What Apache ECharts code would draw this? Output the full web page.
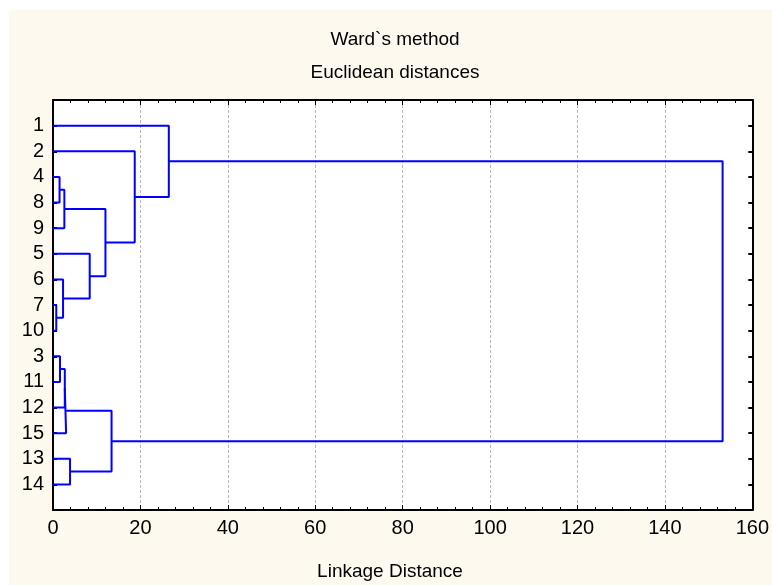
<!DOCTYPE html>
<html>
<head>
<meta charset="utf-8">
<script src="https://cdn.jsdelivr.net/npm/echarts@6/dist/echarts.min.js"></script>
<style>
  html, body { margin: 0; padding: 0; background: #ffffff; }
  #chart { width: 772px; height: 585px; }
</style>
</head>
<body>
<div id="chart"></div>
<script>
// Leaf order along the vertical axis (top to bottom)
const leaves = ['1', '2', '4', '8', '9', '5', '6', '7', '10', '3', '11', '12', '15', '13', '14'];

// Agglomeration steps: cluster cN is created by step N
const mergeLeft  = ['7', '4', '3', 'c0', 'c1', 'c2', 'c5', '13', '5',  'c4', 'c6', '2',  '1',   'c12'];
const mergeRight = ['10', '8', '11', '6', '9', '12', '15', '14', 'c3', 'c8', 'c7', 'c9', 'c11', 'c10'];
const mergeDist  = [0.75, 1.5, 1.6, 2.3, 2.6, 2.7, 3.0, 3.9, 8.4, 12.0, 13.4, 18.7, 26.5, 153.2];

// Distance axis ticks
const distTicks = [0, 20, 40, 60, 80, 100, 120, 140, 160];

// Position (row) and height of every node
const nodePos = {};
const nodeHeight = {};
leaves.forEach((name, i) => { nodePos[name] = i + 1; nodeHeight[name] = 0; });

const linkSeries = [];
mergeDist.forEach((d, i) => {
  const a = mergeLeft[i], b = mergeRight[i];
  const ya = nodePos[a], yb = nodePos[b];
  const id = 'c' + i;
  nodePos[id] = (ya + yb) / 2;
  nodeHeight[id] = d;
  linkSeries.push({
    type: 'line',
    name: id,
    xAxisIndex: 0,
    yAxisIndex: 0,
    data: [[nodeHeight[a], ya], [d, ya], [d, yb], [nodeHeight[b], yb]],
    symbol: 'none',
    silent: true,
    animation: false,
    lineStyle: { color: '#0000ff', width: 2 }
  });
});

const FONT = '"Liberation Sans", Arial, sans-serif';
const chart = echarts.init(document.getElementById('chart'));

const axisCommon = {
  type: 'value',
  min: 0,
  max: 160,
  interval: 20,
  axisLine: { show: true, onZero: false, lineStyle: { color: '#000', width: 2 } },
  axisTick: { show: true, inside: true, length: 5, lineStyle: { color: '#000', width: 1 } },
  minorTick: { show: true, splitNumber: 5, length: 3, lineStyle: { color: '#000', width: 1 } },
};

chart.setOption({
  animation: false,
  backgroundColor: 'transparent',
  graphic: [
    { type: 'rect', z: -10, shape: { x: 9, y: 10, width: 763, height: 575 }, style: { fill: '#fdf9ee' } },
    { type: 'text', x: 395, y: 40, style: { text: 'Ward`s method', font: '19px ' + FONT, fill: '#000', textAlign: 'center', textVerticalAlign: 'middle' } },
    { type: 'text', x: 395, y: 73, style: { text: 'Euclidean distances', font: '19px ' + FONT, fill: '#000', textAlign: 'center', textVerticalAlign: 'middle' } },
    { type: 'text', x: 390, y: 572, style: { text: 'Linkage Distance', font: '19px ' + FONT, fill: '#000', textAlign: 'center', textVerticalAlign: 'middle' } }
  ],
  grid: {
    left: 53, right: 18, top: 100, bottom: 75,
    show: true, backgroundColor: '#ffffff', borderWidth: 0
  },
  xAxis: [
    Object.assign({}, axisCommon, {
      position: 'bottom',
      axisLabel: {
        show: true, color: '#000', fontSize: 20, fontFamily: FONT, margin: 8,
        formatter: v => (distTicks.indexOf(v) >= 0 ? String(v) : '')
      },
      splitLine: { show: true, lineStyle: { color: '#b8b8b8', width: 1, type: [3, 2] } }
    }),
    Object.assign({}, axisCommon, {
      position: 'top',
      axisLabel: { show: false },
      splitLine: { show: false }
    })
  ],
  yAxis: [
    {
      type: 'value', min: 0, max: 16, interval: 1, inverse: true, position: 'left',
      axisLine: { show: true, onZero: false, lineStyle: { color: '#000', width: 2 } },
      axisTick: { show: true, inside: true, length: 4, lineStyle: { color: '#000', width: 2 } },
      axisLabel: {
        show: true, color: '#000', fontSize: 20, fontFamily: FONT, margin: 9,
        formatter: v => (v >= 1 && v <= leaves.length ? leaves[v - 1] : '')
      },
      splitLine: { show: false }
    },
    {
      type: 'value', min: 0, max: 16, interval: 1, inverse: true, position: 'right',
      axisLine: { show: true, onZero: false, lineStyle: { color: '#000', width: 2 } },
      axisTick: { show: true, inside: true, length: 4, lineStyle: { color: '#000', width: 2 } },
      axisLabel: { show: false },
      splitLine: { show: false }
    }
  ],
  series: linkSeries
});
</script>
</body>
</html>
